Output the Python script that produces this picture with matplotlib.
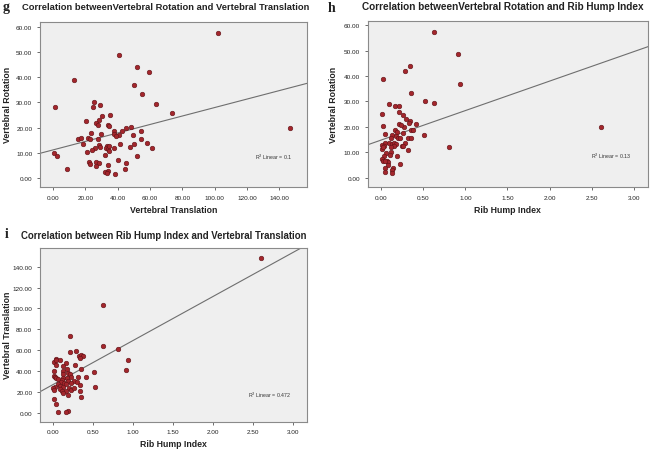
import numpy as np
import matplotlib
matplotlib.use("Agg")
import matplotlib.pyplot as plt

plt.rcParams['font.family'] = ['Liberation Sans', 'DejaVu Sans']

# panel g: vertebral translation (x) vs vertebral rotation (y)
g_translation = [102.3, 41.0, 51.7, 59.5, 13.2, 50.0, 55.2, 1.0, 25.1, 24.7, 29.4, 63.6, 73.5,
                 35.4, 30.4, 28.2, 20.6, 26.6, 28.0, 34.2, 34.4, 146.8, 48.0, 45.3, 37.7, 42.4,
                 54.4, 23.5, 29.6, 38.0, 40.7, 38.9, 49.4, 15.6, 17.1, 21.6, 23.0, 27.8, 54.4,
                 18.7, 41.6, 50.4, 58.3, 28.4, 29.3, 33.4, 32.9, 34.0, 34.6, 37.9, 47.4, 61.0,
                 26.0, 23.9, 34.6, 21.2, 0.8, 2.4, 32.3, 51.7, 40.0, 22.6, 23.1, 26.8, 28.2,
                 44.9, 26.6, 33.8, 8.6, 44.7, 34.0, 32.1, 33.4, 38.3]
g_rotation = [57.4, 48.8, 44.0, 42.2, 39.0, 37.0, 33.2, 28.4, 30.2, 28.4, 29.1, 29.5, 25.8,
              25.2, 24.5, 23.2, 22.5, 21.8, 21.2, 21.2, 20.8, 19.9, 20.3, 19.9, 18.6, 18.7,
              18.7, 17.9, 17.7, 17.7, 17.3, 16.9, 17.3, 15.7, 16.1, 15.8, 15.4, 15.6, 15.7,
              13.6, 13.7, 13.5, 13.8, 13.2, 12.5, 12.8, 12.1, 11.6, 12.9, 12.1, 12.5, 12.0,
              12.1, 11.3, 10.9, 10.3, 9.8, 8.7, 9.0, 8.6, 7.4, 6.3, 5.7, 6.3, 6.1,
              6.2, 5.0, 5.3, 3.7, 3.7, 3.0, 2.4, 2.1, 1.7]

# panel h: rib hump index (x) vs vertebral rotation (y)
h_rhi = [0.622, 0.912, 0.345, 0.289, 0.016, 0.94, 0.353, 0.519, 0.622, 0.091, 0.166, 0.206,
         0.012, 0.21, 0.262, 0.293, 0.341, 0.333, 0.412, 0.214, 0.02, 0.273, 0.23, 2.61,
         0.166, 0.349, 0.38, 0.186, 0.044, 0.258, 0.127, 0.178, 0.511, 0.119, 0.198, 0.226,
         0.317, 0.353, 0.04, 0.091, 0.123, 0.155, 0.182, 0.285, 0.012, 0.032, 0.242, 0.147,
         0.262, 0.809, 0.008, 0.02, 0.111, 0.313, 0.111, 0.063, 0.099, 0.19, 0.032, 0.008,
         0.02, 0.067, 0.079, 0.087, 0.04, 0.222, 0.139, 0.127, 0.123, 0.048, 0.048]
h_rotation = [57.2, 48.6, 44.0, 42.1, 39.0, 37.0, 33.2, 30.2, 29.5, 29.1, 28.2, 28.2,
              25.1, 25.7, 24.5, 23.1, 22.3, 21.5, 21.3, 21.1, 20.3, 20.0, 20.7, 20.0,
              18.6, 18.8, 18.8, 17.9, 17.2, 17.7, 16.9, 16.5, 16.8, 15.5, 15.5, 15.5,
              15.6, 15.6, 13.7, 13.6, 13.4, 13.6, 13.4, 13.6, 13.0, 12.3, 12.3, 12.5,
              12.5, 12.1, 11.4, 11.9, 12.1, 11.0, 10.0, 9.6, 9.1, 8.5, 8.7, 7.4,
              6.7, 6.4, 6.0, 5.1, 6.4, 5.3, 3.8, 3.2, 1.8, 3.7, 2.2]

# panel i: rib hump index (x) vs vertebral translation (y)
i_rhi = [2.61, 0.629, 0.217, 0.625, 0.817, 0.217, 0.296, 0.33, 0.358, 0.383, 0.337, 0.0375,
         0.021, 0.046, 0.092, 0.946, 0.171, 0.0375, 0.279, 0.133, 0.35, 0.912, 0.0125, 0.125,
         0.175, 0.517, 0.188, 0.217, 0.125, 0.021, 0.029, 0.042, 0.225, 0.417, 0.321, 0.125,
         0.113, 0.071, 0.175, 0.104, 0.267, 0.196, 0.3, 0.142, 0.163, 0.346, 0.229, 0.071,
         0.092, 0.029, 0.525, 0.125, 0.008, 0.021, 0.208, 0.225, 0.267, 0.0875, 0.1125, 0.167,
         0.337, 0.133, 0.196, 0.354, 0.0125, 0.042, 0.067, 0.188, 0.167]
i_translation = [147.9, 103.1, 74.1, 64.3, 61.4, 58.9, 59.8, 54.7, 55.7, 55.0, 53.1, 52.2,
                 49.3, 50.6, 50.9, 50.6, 48.4, 45.8, 45.8, 44.9, 42.6, 41.4, 40.7, 40.4,
                 42.3, 39.5, 38.5, 37.9, 37.5, 35.6, 34.4, 33.4, 35.0, 34.4, 34.7, 33.4,
                 31.8, 32.8, 33.4, 30.2, 31.2, 30.5, 29.6, 29.0, 28.0, 27.0, 29.3, 28.0,
                 26.4, 25.5, 25.5, 25.1, 23.9, 22.6, 23.9, 22.6, 23.9, 22.9, 21.6, 21.6,
                 21.0, 19.1, 17.2, 15.6, 13.7, 8.6, 1.0, 2.5, 1.3]

# fit lines (intercept, slope) and R squared as shown
g_fit = (11.2, 0.168)
h_fit = (14.8, 11.6)
i_fit = (27.3, 42.0)
r2_labels = ["0.1", "0.13", "0.472"]

titles = ["Correlation betweenVertebral Rotation and Vertebral Translation",
          "Correlation betweenVertebral Rotation and Rib Hump Index",
          "Correlation between Rib Hump Index and Vertebral Translation"]
letters = ["g", "h", "i"]

PANEL_BG = '#EFEFEF'
DOT_FACE = '#A3262C'
DOT_EDGE = '#5E1216'
TEXT = '#222222'

W, H = 650, 452
fig = plt.figure(figsize=(6.5, 4.52), dpi=100)
fig.patch.set_facecolor('white')

ax_g = fig.add_axes([0.0615, 0.584, 0.4108, 0.3658])
ax_h = fig.add_axes([0.5657, 0.584, 0.4312, 0.368])
ax_i = fig.add_axes([0.0615, 0.0648, 0.4103, 0.385])


def style_panel(ax, xlabel, ylabel, xlab_y, ylab_x):
    ax.set_facecolor(PANEL_BG)
    for s in ax.spines.values():
        s.set_edgecolor('#8A8A8A')
        s.set_linewidth(0.8)
    ax.tick_params(axis='both', labelsize=4.6, colors='#555555', labelcolor=TEXT,
                   length=2.5, width=0.6, pad=3)
    ax.tick_params(top=False, right=False)
    ax.set_xlabel(xlabel, fontsize=6.3, fontweight='bold', color=TEXT)
    ax.set_ylabel(ylabel, fontsize=6.3, fontweight='bold', color=TEXT)
    ax.xaxis.set_label_coords(0.5, xlab_y)
    ax.yaxis.set_label_coords(ylab_x, 0.5)
    ax.xaxis.set_major_formatter(matplotlib.ticker.FormatStrFormatter('%.2f'))
    ax.yaxis.set_major_formatter(matplotlib.ticker.FormatStrFormatter('%.2f'))


def draw(ax, x, y, fit, r2, r2_pos):
    ax.axline((0, fit[0]), slope=fit[1], color='#6E6E6E', lw=0.8, zorder=2)
    ax.scatter(x, y, s=11, c=DOT_FACE, edgecolors=DOT_EDGE, linewidths=0.4, zorder=3)
    ax.text(r2_pos[0], r2_pos[1], "R$^2$ Linear = " + r2, fontsize=3.8, color='#333333',
            transform=ax.transAxes, ha='left', va='center')


# g
style_panel(ax_g, "Vertebral Translation", "Vertebral Rotation", -0.11, -0.105)
draw(ax_g, g_translation, g_rotation, g_fit, r2_labels[0], (0.805, 0.185))
ax_g.set_xlim(-8, 157)
ax_g.set_ylim(-3.5, 62)
ax_g.set_xticks(np.arange(0, 141, 20))
ax_g.set_yticks(np.arange(0, 61, 10))

# h
style_panel(ax_h, "Rib Hump Index", "Vertebral Rotation", -0.11, -0.105)
draw(ax_h, h_rhi, h_rotation, h_fit, r2_labels[1], (0.796, 0.19))
ax_h.set_xlim(-0.16, 3.17)
ax_h.set_ylim(-3.7, 61.8)
ax_h.set_xticks(np.arange(0, 3.01, 0.5))
ax_h.set_yticks(np.arange(0, 61, 10))

# i
style_panel(ax_i, "Rib Hump Index", "Vertebral Translation", -0.102, -0.105)
draw(ax_i, i_rhi, i_translation, i_fit, r2_labels[2], (0.78, 0.157))
ax_i.set_xlim(-0.16, 3.175)
ax_i.set_ylim(-8, 158)
ax_i.set_xticks(np.arange(0, 3.01, 0.5))
ax_i.set_yticks(np.arange(0, 141, 20))

# titles (centre x, centre y in pixels, size) and panel letters
title_pos = [(166, 7, 6.75), (503, 7, 7.2), (164, 236, 6.9)]
for title, (cx, cy, fs) in zip(titles, title_pos):
    fig.text(cx / W, 1 - cy / H, title, fontsize=fs, fontweight='bold', color=TEXT,
             ha='center', va='center')

letter_pos = [(3, 1), (328, 2), (5, 228)]
for letter, (lx, ly) in zip(letters, letter_pos):
    fig.text(lx / W, 1 - ly / H, letter, fontsize=10, fontweight='bold',
             family='Liberation Serif', ha='left', va='top', color=TEXT)

plt.savefig("out.png", dpi=100, facecolor='white')
plt.close()
